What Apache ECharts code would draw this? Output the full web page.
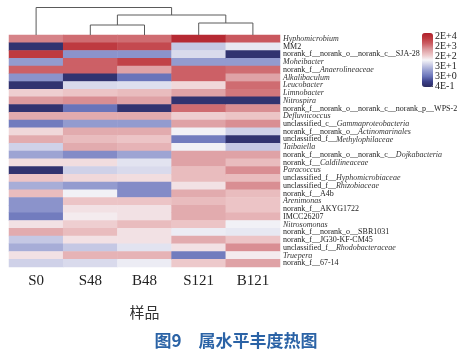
<!DOCTYPE html>
<html><head><meta charset="utf-8">
<script src="https://cdn.jsdelivr.net/npm/echarts@6/dist/echarts.min.js"></script>
<style>html,body{margin:0;padding:0;background:#fff}#c{width:472px;height:352px}</style>
</head><body><div id="c"></div>
<script>
const samples = ['S0', 'S48', 'B48', 'S121', 'B121'];
const taxa = [
  '*Hyphomicrobium*', 'MM2', 'norank_f__norank_o__norank_c__SJA-28', '*Moheibacter*',
  'norank_f__*Anaerolineaceae*', '*Alkalibaculum*', '*Leucobacter*', '*Limnobacter*', '*Nitrospira*',
  'norank_f__norank_o__norank_c__norank_p__WPS-2', '*Defluviicoccus*', 'unclassified_c__*Gammaproteobacteria*',
  'norank_f__norank_o__*Actinomarinales*', 'unclassified_f__*Methylophilaceae*', '*Taibaiella*',
  'norank_f__norank_o__norank_c__*Dojkabacteria*', 'norank_f__*Caldilineaceae*', '*Paracoccus*',
  'unclassified_f__*Hyphomicrobiaceae*', 'unclassified_f__*Rhizobiaceae*', 'norank_f__A4b', '*Arenimonas*',
  'norank_f__AKYG1722', 'IMCC26207', '*Nitrosomonas*', 'norank_f__norank_o__SBR1031',
  'norank_f__JG30-KF-CM45', 'unclassified_f__*Rhodobacteraceae*', '*Truepera*', 'norank_f__67-14'
];
// colour-scale level per cell (0 = 4E-1 ... 5 = 2E+4)
const S0   = [3.7,0.2,4.5,1.5,4.0,1.4,0.2,2.9,3.5,0.2,3.3,1.1,2.8,3.3,2.1,1.6,2.75,0.2,3.0,1.7,3.1,1.4,1.4,1.1,2.7,3.3,2.0,1.7,2.7,2.1];
const S48  = [3.9,4.5,1.4,4.0,4.0,0.2,2.2,3.0,3.6,1.0,3.3,1.5,3.3,3.1,3.3,1.3,2.75,2.1,2.8,1.5,2.45,3.0,2.7,2.6,2.9,3.1,2.7,2.0,3.2,2.2];
const B48  = [3.9,4.3,1.4,4.4,3.4,1.0,2.25,3.1,3.4,0.2,3.3,1.5,3.3,3.0,3.2,1.6,2.3,2.2,2.75,1.3,1.3,3.0,2.7,2.7,3.1,2.7,2.7,2.3,3.2,2.4];
const S121 = [4.8,2.0,2.2,1.5,4.0,4.0,2.8,3.4,0.2,3.9,2.9,3.4,2.45,1.1,2.45,3.4,3.4,3.1,3.1,2.7,3.3,3.1,3.3,3.3,3.0,2.4,3.3,2.7,1.1,2.95];
const B121 = [4.1,2.35,0.2,1.5,3.9,3.4,3.9,3.8,0.2,3.6,3.0,3.6,2.1,0.2,2.0,3.4,3.1,3.6,3.1,3.6,3.1,3.0,3.0,3.2,2.45,2.35,3.0,3.6,2.6,3.4];
const legendTicks = ['4E-1', '3E+0', '3E+1', '2E+2', '2E+3', '2E+4'];
// dendrogram merges: [left node, right node, height]; leaves 0..4, new nodes 5,6,...
const merges = [[1, 2, 10], [3, 4, 12], [5, 6, 20], [0, 7, 27.5]];

const cols = [S0, S48, B48, S121, B121];
const heat = [];
cols.forEach((arr, c) => arr.forEach((v, r) => heat.push([c, r, v])));

const nodeX = [0, 1, 2, 3, 4], nodeH = [0, 0, 0, 0, 0];
const dendroSeries = merges.map(([a, b, h]) => {
  const xa = nodeX[a], xb = nodeX[b];
  nodeX.push((xa + xb) / 2); nodeH.push(h);
  return {
    type: 'line', xAxisIndex: 1, yAxisIndex: 1, symbol: 'none', silent: true,
    lineStyle: { color: '#5a5a5a', width: 1 },
    data: [[xa, nodeH[a]], [xa, h], [xb, h], [xb, nodeH[b]]]
  };
});

function richLabel(s) {
  return s.split('*').map((p, i) => p === '' ? '' : (i % 2 ? '{i|' + p + '}' : '{n|' + p + '}')).join('');
}
const SERIF = 'Liberation Serif';

const chart = echarts.init(document.getElementById('c'), null, { renderer: 'canvas' });
chart.setOption({
  animation: false,
  backgroundColor: '#ffffff',
  title: {
    text: '图9\u3000属水平丰度热图', left: 'center', top: 327,
    textStyle: { fontFamily: 'Noto Sans CJK SC', fontSize: 17, fontWeight: 'bold', color: '#2B63A6' }
  },
  grid: [
    { left: 9, top: 35, width: 271, height: 232 },
    { left: 9, top: 7, width: 271, height: 28 },
    { left: 433, top: 36, width: 1, height: 50 }
  ],
  xAxis: [
    { type: 'category', gridIndex: 0, data: samples, position: 'bottom',
      name: '样品', nameLocation: 'middle', nameGap: 38,
      nameTextStyle: { fontFamily: 'Noto Sans CJK SC', fontSize: 15, color: '#333' },
      axisLine: { show: false }, axisTick: { show: false }, splitLine: { show: false },
      axisLabel: { margin: 7, fontFamily: SERIF, fontSize: 15, color: '#222' } },
    { type: 'value', gridIndex: 1, min: -0.5, max: 4.5, show: false },
    { type: 'value', gridIndex: 2, show: false }
  ],
  yAxis: [
    { type: 'category', gridIndex: 0, data: taxa, inverse: true, position: 'right',
      axisLine: { show: false }, axisTick: { show: false }, splitLine: { show: false },
      axisLabel: { interval: 0, margin: 3, formatter: richLabel,
        rich: {
          n: { fontFamily: SERIF, fontSize: 8, color: '#222' },
          i: { fontFamily: SERIF, fontSize: 8, fontStyle: 'italic', color: '#333' }
        } } },
    { type: 'value', gridIndex: 1, min: 0, max: 28, show: false },
    { type: 'category', gridIndex: 2, data: legendTicks, boundaryGap: false, position: 'right',
      axisLine: { show: false }, splitLine: { show: false },
      axisTick: { show: true, inside: true, length: 3, interval: 0, alignWithLabel: true,
        lineStyle: { color: '#444' } },
      axisLabel: { interval: 0, margin: 1, fontFamily: SERIF, fontSize: 10, color: '#222' } }
  ],
  visualMap: {
    type: 'continuous', min: 0, max: 5, seriesIndex: 0, calculable: false,
    orient: 'vertical', left: 422, top: 33, itemWidth: 11, itemHeight: 54, padding: 0,
    text: null, showLabel: false, hoverLink: false,
    inRange: { color: ['#2A2A60', '#3C4189', '#6A74BA', '#939BCF', '#C5C8E4', '#F6F5F8',
                       '#ECC4C6', '#DC9A9E', '#CC6066', '#BE3A40', '#B01F2A'] }
  },
  series: [
    { type: 'heatmap', xAxisIndex: 0, yAxisIndex: 0, data: heat, silent: true,
      itemStyle: { borderWidth: 0 }, progressive: 0 }
  ].concat(dendroSeries)
});
</script></body></html>
